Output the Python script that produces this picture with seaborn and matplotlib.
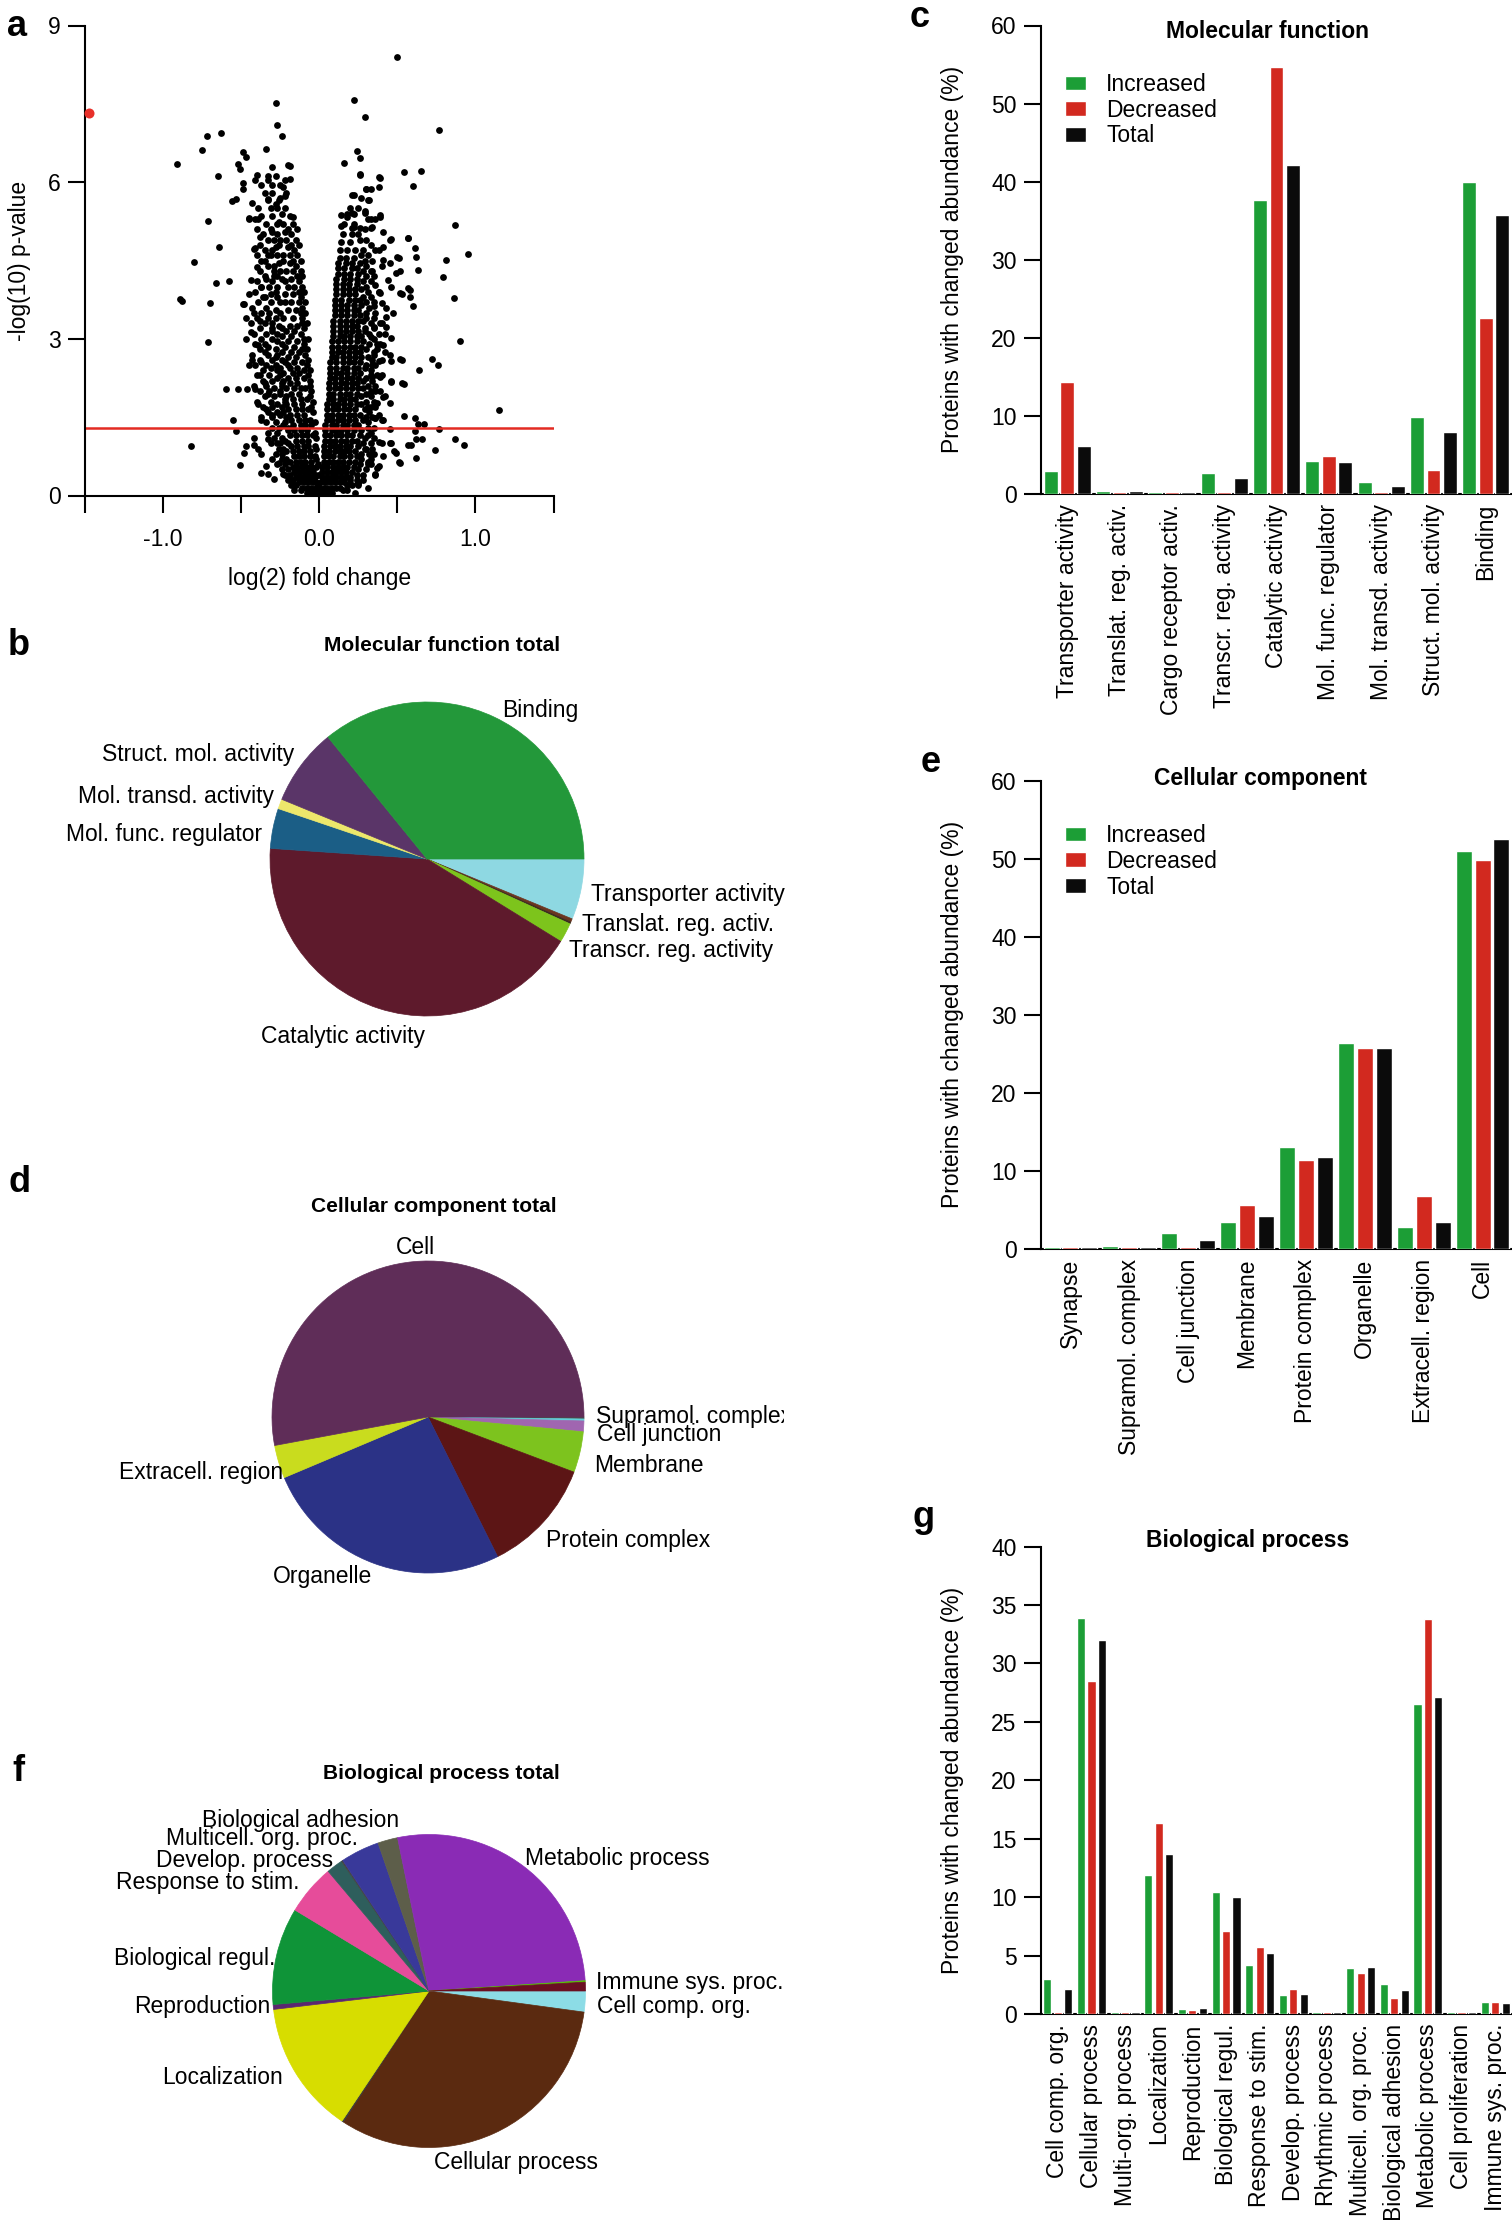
import numpy as np
import pandas as pd
import matplotlib
matplotlib.use('Agg')
import matplotlib.pyplot as plt
import seaborn as sns

# -------------------------------------------------------
# Data
# -------------------------------------------------------
# a: volcano plot, (log2 fold change, -log10 p-value)
vol_outliers = [
    (0.50, 8.40), (-0.28, 7.51), (0.22, 7.58), (0.29, 7.25), (-0.27, 7.09), (-0.24, 6.88),
    (0.77, 6.99), (-0.63, 6.94), (-0.72, 6.89), (-0.75, 6.61), (-0.91, 6.35), (-0.49, 6.57),
    (-0.47, 6.49), (-0.34, 6.64), (0.24, 6.59), (0.26, 6.47), (0.16, 6.36), (-0.52, 6.34),
    (-0.51, 6.26), (-0.30, 6.29), (-0.20, 6.33), (-0.19, 6.31), (-0.65, 6.11), (-0.40, 6.14),
    (-0.33, 6.12), (-0.28, 6.12), (-0.19, 6.06), (0.26, 6.15), (0.54, 6.19), (0.65, 6.22),
    (0.38, 6.09), (0.60, 5.92), (-0.49, 5.99), (-0.49, 5.87), (-0.23, 5.90), (0.30, 5.87),
    (0.33, 5.87), (0.38, 5.91), (0.21, 5.75), (-0.56, 5.64), (-0.53, 5.67), (-0.43, 5.60),
    (-0.33, 5.68), (-0.28, 5.58), (-0.22, 5.73), (0.32, 5.65), (0.29, 5.44), (0.14, 5.38),
    (0.18, 5.39), (0.22, 5.39), (0.39, 5.38), (-0.71, 5.25), (-0.45, 5.31), (-0.39, 5.29),
    (-0.26, 5.24), (-0.17, 5.33), (0.87, 5.18), (0.14, 5.16), (0.21, 5.12), (0.26, 5.12),
    (0.33, 5.13), (-0.64, 4.76), (0.57, 4.94), (0.46, 4.91), (0.61, 4.73), (0.62, 4.56),
    (0.95, 4.63), (0.81, 4.51), (0.63, 4.32), (0.50, 4.56), (-0.80, 4.47), (-0.58, 4.11),
    (-0.66, 4.06), (0.79, 4.18), (0.57, 3.97), (0.52, 3.87), (0.58, 3.80), (0.86, 3.78),
    (-0.89, 3.77), (-0.88, 3.73), (-0.70, 3.68), (-0.49, 3.66), (0.60, 3.62), (-0.71, 2.94),
    (0.90, 2.96), (0.72, 2.62), (0.76, 2.49), (0.64, 2.41), (0.52, 2.62), (0.46, 2.19),
    (0.53, 2.15), (-0.60, 2.04), (-0.52, 2.04), (-0.46, 2.03), (1.15, 1.64), (-0.55, 1.45),
    (-0.53, 1.24), (-0.82, 0.95), (0.61, 1.48), (0.63, 1.37), (0.67, 1.37), (0.61, 1.24),
    (0.77, 1.27), (0.87, 1.09), (0.93, 0.96), (0.74, 0.87), (0.62, 1.08), (0.66, 1.08),
    (0.57, 0.96), (0.62, 0.71), (0.51, 0.64), (0.48, 0.86), (0.46, 1.00), (0.45, 1.28),
    (0.38, 1.02), (0.41, 1.44), (0.36, 1.48), (-0.51, 0.58), (-0.48, 0.81), (-0.47, 0.95),
    (-0.42, 1.11), (-0.37, 1.45), (-0.37, 0.80), (-0.34, 0.57), (-0.37, 0.44), (-0.33, 0.41),
    (-0.29, 0.32), (-0.26, 0.63), (-0.23, 0.41), (-0.33, 1.08), (0.25, 0.24), (0.36, 0.42),
    (0.38, 0.57), (0.31, 0.64),
]
vol_left_spread = [
    (-0.45, 5.30), (-0.41, 5.29), (-0.38, 4.95), (-0.41, 4.74), (-0.42, 4.72), (-0.35, 4.50),
    (-0.40, 4.38), (-0.44, 4.13), (-0.37, 4.00), (-0.45, 3.85), (-0.36, 3.80), (-0.48, 3.67),
    (-0.42, 3.50), (-0.47, 3.40), (-0.38, 3.35), (-0.44, 3.14), (-0.47, 3.00), (-0.39, 2.88),
    (-0.43, 2.60), (-0.37, 2.55), (-0.45, 2.50), (-0.38, 2.30), (-0.35, 2.15), (-0.41, 2.04),
    (-0.33, 1.95), (-0.39, 1.75), (-0.34, 1.65), (-0.30, 1.55), (-0.42, 0.97), (-0.39, 0.90),
    (-0.27, 1.00), (-0.30, 0.70), (-0.33, 4.60), (-0.31, 5.50), (-0.35, 5.80), (-0.33, 6.05),
    (-0.30, 5.95), (-0.25, 5.70), (-0.29, 4.20), (-0.30, 3.20), (-0.35, 2.75),
]
vol_right_spread = [
    (0.33, 4.80), (0.35, 4.20), (0.40, 4.40), (0.38, 3.90), (0.43, 3.60), (0.35, 3.40),
    (0.42, 3.10), (0.37, 2.90), (0.45, 2.70), (0.34, 2.50), (0.40, 2.30), (0.36, 2.00),
    (0.42, 1.90), (0.33, 1.70), (0.38, 1.55), (0.45, 4.90), (0.41, 5.05), (0.31, 5.30),
    (0.33, 0.60), (0.30, 0.90), (0.35, 0.80), (0.28, 0.30), (0.31, 0.15), (0.23, 0.05),
    (0.41, 0.75),
    (0.41, 4.51), (0.45, 4.45), (0.51, 4.54), (0.49, 4.26), (0.52, 4.29), (0.57, 4.93),
    (0.44, 4.13), (0.46, 4.00), (0.53, 3.86), (0.58, 3.94), (0.39, 3.87), (0.36, 4.03),
    (0.40, 3.68), (0.43, 3.42), (0.47, 3.49), (0.39, 3.30), (0.35, 3.23), (0.43, 3.23),
    (0.46, 3.01), (0.41, 2.88), (0.35, 2.75), (0.42, 2.75), (0.46, 2.58), (0.53, 2.59),
    (0.38, 2.58), (0.39, 2.27), (0.46, 2.18), (0.54, 2.14), (0.41, 1.89), (0.45, 1.77),
    (0.36, 1.48), (0.40, 1.45), (0.54, 1.52), (0.37, 1.77), (0.34, 2.27), (0.33, 3.04),
    (0.35, 3.62), (0.34, 4.29), (0.38, 4.70), (0.41, 4.76), (0.39, 5.34), (0.34, 5.15),
    (0.31, 5.66), (0.39, 6.08), (0.26, 6.14), (0.30, 5.87), (0.22, 5.76), (0.29, 5.41),
    (0.21, 5.41), (0.22, 5.15), (0.18, 5.34), (0.45, 1.00), (0.40, 1.00), (0.49, 0.81),
    (0.52, 0.62), (0.37, 0.52), (0.36, 0.39), (0.25, 0.23), (0.31, 1.16), (0.59, 0.97),
]
# dense arms, read row by row: (-log10 p, [log2 fold changes])
vol_left_rows = [
    (0.05, [-0.08, -0.05, -0.03]), (0.15, [-0.11, -0.08, -0.05, -0.02]),
    (0.25, [-0.13, -0.10, -0.07, -0.04, -0.02]), (0.35, [-0.15, -0.12, -0.09, -0.06, -0.03]),
    (0.45, [-0.16, -0.13, -0.10, -0.07, -0.04]), (0.55, [-0.17, -0.14, -0.11, -0.08, -0.05, -0.02]),
    (0.65, [-0.19, -0.15, -0.12, -0.09, -0.05]), (0.75, [-0.16, -0.13, -0.10, -0.06, -0.03]),
    (0.85, [-0.21, -0.17, -0.13, -0.10, -0.06]), (0.95, [-0.18, -0.14, -0.10, -0.07, -0.03]),
    (1.05, [-0.22, -0.15, -0.11, -0.07]), (1.15, [-0.19, -0.15, -0.11, -0.08, -0.04]),
    (1.25, [-0.20, -0.16, -0.12, -0.08]), (1.35, [-0.23, -0.17, -0.12, -0.09, -0.05]),
    (1.45, [-0.18, -0.13, -0.09, -0.06]), (1.55, [-0.25, -0.19, -0.14, -0.10]),
    (1.65, [-0.20, -0.15, -0.11, -0.07]), (1.75, [-0.27, -0.21, -0.16, -0.11]),
    (1.85, [-0.22, -0.17, -0.12, -0.08]), (1.95, [-0.25, -0.18, -0.13]),
    (2.05, [-0.29, -0.21, -0.16, -0.12, -0.09]), (2.15, [-0.24, -0.19, -0.14]),
    (2.25, [-0.27, -0.20, -0.15, -0.10]), (2.35, [-0.23, -0.17, -0.13]),
    (2.45, [-0.31, -0.25, -0.19, -0.14]), (2.55, [-0.22, -0.16, -0.11]),
    (2.65, [-0.28, -0.20, -0.15]), (2.75, [-0.24, -0.18, -0.13]),
    (2.85, [-0.33, -0.22, -0.16]), (2.95, [-0.27, -0.20, -0.14]),
    (3.05, [-0.24, -0.18]), (3.15, [-0.30, -0.21, -0.16]), (3.25, [-0.26, -0.19, -0.14]),
    (3.40, [-0.33, -0.23, -0.17]), (3.55, [-0.28, -0.20, -0.15]), (3.70, [-0.25, -0.18]),
    (3.85, [-0.31, -0.22, -0.17]), (4.00, [-0.27, -0.20]), (4.15, [-0.34, -0.24, -0.18]),
    (4.30, [-0.29, -0.21]), (4.45, [-0.26, -0.19]), (4.60, [-0.31, -0.23]),
    (4.75, [-0.28, -0.20]), (4.90, [-0.25]), (5.05, [-0.30, -0.22]), (5.20, [-0.27]),
    (5.40, [-0.24]),
]
vol_left_rows_outer = [
    (0.10, [-0.16, -0.12, -0.01]), (0.20, [-0.18, -0.15, -0.01]), (0.30, [-0.20, -0.17]),
    (0.40, [-0.22, -0.19, -0.01]), (0.50, [-0.24, -0.20]), (0.60, [-0.27, -0.22, -0.01]),
    (0.70, [-0.24, -0.21, -0.02]), (0.80, [-0.28, -0.24]), (0.90, [-0.26, -0.23, -0.02]),
    (1.00, [-0.31, -0.25, -0.20]), (1.10, [-0.29, -0.24, -0.02]), (1.20, [-0.33, -0.27, -0.03]),
    (1.30, [-0.30, -0.26, -0.20]), (1.40, [-0.34, -0.28, -0.22, -0.03]),
    (1.50, [-0.37, -0.30, -0.21]), (1.60, [-0.33, -0.27, -0.23, -0.04]),
    (1.70, [-0.36, -0.30, -0.24, -0.05]), (1.80, [-0.40, -0.31, -0.22, -0.04]),
    (1.90, [-0.35, -0.29, -0.21, -0.06]), (2.00, [-0.38, -0.32, -0.25, -0.05]),
    (2.10, [-0.42, -0.34, -0.24, -0.06]), (2.20, [-0.36, -0.30, -0.23, -0.06]),
    (2.30, [-0.40, -0.32, -0.25, -0.07]), (2.40, [-0.36, -0.27, -0.10, -0.06]),
    (2.50, [-0.41, -0.34, -0.28, -0.20, -0.08]), (2.60, [-0.38, -0.30, -0.24, -0.07]),
    (2.70, [-0.43, -0.33, -0.27, -0.09]), (2.80, [-0.38, -0.28, -0.11, -0.08]),
    (2.90, [-0.41, -0.35, -0.24, -0.10]), (3.00, [-0.37, -0.30, -0.10, -0.07]),
    (3.10, [-0.42, -0.34, -0.27, -0.12]), (3.20, [-0.38, -0.24, -0.10]),
    (3.30, [-0.44, -0.35, -0.30, -0.11, -0.08]), (3.40, [-0.40, -0.28, -0.11]),
    (3.50, [-0.37, -0.32, -0.25, -0.12, -0.09]), (3.60, [-0.43, -0.34, -0.11]),
    (3.70, [-0.39, -0.31, -0.22, -0.13, -0.09]), (3.80, [-0.35, -0.27, -0.12]),
    (3.90, [-0.41, -0.28, -0.13, -0.10]), (4.00, [-0.37, -0.32, -0.16, -0.11]),
    (4.10, [-0.40, -0.30, -0.22, -0.13]), (4.20, [-0.35, -0.27, -0.14, -0.11]),
    (4.30, [-0.38, -0.25, -0.17, -0.12]), (4.40, [-0.33, -0.29, -0.15]),
    (4.50, [-0.37, -0.23, -0.17, -0.12]), (4.60, [-0.40, -0.27, -0.19, -0.14]),
    (4.70, [-0.35, -0.30, -0.16]), (4.80, [-0.38, -0.26, -0.18, -0.13]),
    (4.90, [-0.33, -0.29, -0.21, -0.15]), (5.00, [-0.36, -0.27, -0.18]),
    (5.10, [-0.40, -0.31, -0.20, -0.14]), (5.20, [-0.34, -0.23, -0.17]),
    (5.35, [-0.37, -0.30, -0.19]), (5.50, [-0.39, -0.27, -0.22]), (5.65, [-0.33, -0.26]),
    (5.80, [-0.30, -0.21]), (5.95, [-0.37, -0.25]), (6.05, [-0.41, -0.22]),
]
vol_right_rows = [
    (0.05, [-0.02, 0.01, 0.03, 0.06, 0.08]), (0.15, [0.00, 0.03, 0.05, 0.08, 0.11, 0.13]),
    (0.25, [0.01, 0.04, 0.07, 0.10, 0.13, 0.16]), (0.35, [0.02, 0.05, 0.08, 0.11, 0.14, 0.17, 0.20]),
    (0.45, [0.02, 0.05, 0.08, 0.11, 0.14, 0.17, 0.21]), (0.55, [0.02, 0.05, 0.09, 0.12, 0.15, 0.18, 0.22]),
    (0.65, [0.03, 0.06, 0.09, 0.12, 0.15, 0.19, 0.23]), (0.75, [0.03, 0.06, 0.09, 0.13, 0.16, 0.20, 0.24]),
    (0.85, [0.03, 0.06, 0.10, 0.13, 0.16, 0.19, 0.23]), (0.95, [0.03, 0.07, 0.10, 0.13, 0.17, 0.20, 0.25]),
    (1.05, [0.04, 0.07, 0.10, 0.14, 0.17, 0.21, 0.24]), (1.15, [0.04, 0.07, 0.11, 0.14, 0.18, 0.21, 0.26]),
    (1.25, [0.04, 0.08, 0.11, 0.14, 0.18, 0.22, 0.27]), (1.35, [0.04, 0.08, 0.11, 0.15, 0.18, 0.22, 0.25]),
    (1.45, [0.05, 0.08, 0.12, 0.15, 0.19, 0.23, 0.28]), (1.55, [0.05, 0.08, 0.12, 0.15, 0.19, 0.22, 0.26]),
    (1.65, [0.05, 0.09, 0.12, 0.16, 0.19, 0.23, 0.29]), (1.75, [0.05, 0.09, 0.12, 0.16, 0.20, 0.24, 0.27]),
    (1.85, [0.06, 0.09, 0.13, 0.16, 0.20, 0.23]), (1.95, [0.06, 0.09, 0.13, 0.17, 0.20, 0.24, 0.30]),
    (2.05, [0.06, 0.10, 0.13, 0.17, 0.21, 0.25, 0.28]), (2.15, [0.06, 0.10, 0.14, 0.17, 0.21, 0.24]),
    (2.25, [0.07, 0.10, 0.14, 0.18, 0.21, 0.25, 0.30]), (2.35, [0.07, 0.11, 0.14, 0.18, 0.22, 0.26]),
    (2.45, [0.07, 0.11, 0.15, 0.18, 0.22, 0.25, 0.29]), (2.55, [0.07, 0.11, 0.15, 0.19, 0.22, 0.26]),
    (2.65, [0.08, 0.11, 0.15, 0.19, 0.23, 0.27, 0.31]), (2.75, [0.08, 0.12, 0.15, 0.19, 0.23, 0.26]),
    (2.85, [0.08, 0.12, 0.16, 0.20, 0.23, 0.27]), (2.95, [0.08, 0.12, 0.16, 0.20, 0.24, 0.28]),
    (3.05, [0.09, 0.13, 0.16, 0.20, 0.24, 0.27]), (3.15, [0.09, 0.13, 0.17, 0.21, 0.25, 0.29]),
    (3.25, [0.09, 0.13, 0.17, 0.21, 0.24]), (3.35, [0.09, 0.13, 0.17, 0.21, 0.25, 0.28]),
    (3.45, [0.10, 0.14, 0.18, 0.22, 0.26]), (3.55, [0.10, 0.14, 0.18, 0.22, 0.25]),
    (3.65, [0.10, 0.14, 0.18, 0.22, 0.27]), (3.75, [0.10, 0.14, 0.19, 0.23, 0.26]),
    (3.85, [0.11, 0.15, 0.19, 0.23]), (3.95, [0.11, 0.15, 0.19, 0.23, 0.27]),
    (4.05, [0.11, 0.15, 0.19, 0.24]), (4.15, [0.11, 0.16, 0.20, 0.24]),
    (4.25, [0.12, 0.16, 0.20, 0.25]), (4.35, [0.12, 0.16, 0.21, 0.24]),
    (4.45, [0.12, 0.17, 0.21, 0.26]), (4.55, [0.13, 0.17, 0.22]), (4.70, [0.13, 0.18, 0.23]),
    (4.85, [0.14, 0.20]), (5.00, [0.15, 0.21, 0.25]), (5.20, [0.16, 0.22]),
]
vol_right_rows_outer = [
    (0.10, [0.15, 0.18]), (0.20, [0.18, 0.21, 0.25]), (0.30, [0.20, 0.24]), (0.40, [0.24, 0.28]),
    (0.50, [0.25, 0.30]), (0.60, [0.26, 0.31]), (0.70, [0.27, 0.33]), (0.80, [0.27, 0.32]),
    (0.90, [0.29, 0.34]), (1.00, [0.28, 0.33]), (1.10, [0.29, 0.35]), (1.20, [0.33]),
    (1.30, [0.31, 0.35]), (1.40, [0.31]), (1.50, [0.30, 0.34]), (1.60, [0.32]),
    (1.70, [0.31, 0.36]), (1.80, [0.30, 0.35]), (1.90, [0.27, 0.33]), (2.00, [0.33, 0.39]),
    (2.10, [0.31, 0.36]), (2.20, [0.28, 0.34]), (2.30, [0.33, 0.37]), (2.40, [0.33]),
    (2.50, [0.30, 0.36]), (2.60, [0.34, 0.40]), (2.70, [0.35]), (2.80, [0.30, 0.37]),
    (2.90, [0.32, 0.39]), (3.00, [0.35]), (3.10, [0.32, 0.38]), (3.20, [0.29, 0.35]),
    (3.30, [0.33, 0.40]), (3.40, [0.30]), (3.50, [0.30, 0.36]), (3.60, [0.32]),
    (3.70, [0.30, 0.35]), (3.80, [0.28, 0.33]), (3.90, [0.31, 0.38]), (4.00, [0.30]),
    (4.10, [0.28, 0.33]), (4.20, [0.30]), (4.30, [0.28, 0.33]), (4.40, [0.30]),
    (4.50, [0.29, 0.34]), (4.60, [0.27, 0.31]), (4.70, [0.28, 0.36]), (4.90, [0.26, 0.30]),
    (5.10, [0.29]), (5.30, [0.33, 0.36]), (5.50, [0.20, 0.25]), (5.70, [0.27]),
]
vol_flagged = [(-1.474, 7.32)]
p_cutoff = 1.3

# c / b: molecular function
mf_cats = ['Transporter activity', 'Translat. reg. activ.', 'Cargo receptor activ.',
           'Transcr. reg. activity', 'Catalytic activity', 'Mol. func. regulator',
           'Mol. transd. activity', 'Struct. mol. activity', 'Binding']
mf_inc = [3.0, 0.35, 0.2, 2.7, 37.6, 4.2, 1.6, 9.9, 40.0]
mf_dec = [14.4, 0.2, 0.2, 0.2, 54.7, 4.9, 0.2, 3.1, 22.6]
mf_tot = [6.2, 0.35, 0.2, 2.0, 42.1, 4.1, 1.0, 7.9, 35.7]

# e / d: cellular component
cc_cats = ['Synapse', 'Supramol. complex', 'Cell junction', 'Membrane', 'Protein complex',
           'Organelle', 'Extracell. region', 'Cell']
cc_inc = [0.2, 0.35, 2.0, 3.4, 13.0, 26.4, 2.8, 51.0]
cc_dec = [0.2, 0.2, 0.2, 5.6, 11.4, 25.75, 6.8, 49.9]
cc_tot = [0.2, 0.2, 1.1, 4.2, 11.8, 25.8, 3.4, 52.5]

# g / f: biological process
bp_cats = ['Cell comp. org.', 'Cellular process', 'Multi-org. process', 'Localization',
           'Reproduction', 'Biological regul.', 'Response to stim.', 'Develop. process',
           'Rhythmic process', 'Multicell. org. proc.', 'Biological adhesion',
           'Metabolic process', 'Cell proliferation', 'Immune sys. proc.']
bp_inc = [3.0, 33.9, 0.15, 11.9, 0.45, 10.4, 4.2, 1.65, 0.15, 3.9, 2.6, 26.5, 0.15, 1.0]
bp_dec = [0.15, 28.5, 0.15, 16.35, 0.35, 7.1, 5.7, 2.1, 0.15, 3.55, 1.4, 33.8, 0.15, 1.0]
bp_tot = [2.15, 32.0, 0.15, 13.7, 0.5, 10.0, 5.2, 1.7, 0.15, 4.0, 2.05, 27.1, 0.15, 0.9]

series = ['Increased', 'Decreased', 'Total']

# -------------------------------------------------------
# Styles / layout (pixels of the 1512x2220 canvas)
# -------------------------------------------------------
GREEN, RED, BLACK = '#1c9e36', '#d2291f', '#0b0b0b'

mf_colors = ['#8ed8e2', '#6b3520', '#3a2a20', '#7dc41c', '#5e1a2c', '#1b5e86', '#ede76b',
             '#5a3568', '#23983a']
cc_colors = ['#4a4a4a', '#5fd0d8', '#a066b0', '#7dc31e', '#5c1515', '#2b3286', '#c9dc1e',
             '#5f2d58']
bp_colors = ['#8cdce6', '#5b2a10', '#3a3a3a', '#d7dd00', '#5a2770', '#0f9438', '#e64c9a',
             '#2e5e5c', '#444444', '#39399a', '#5d5e4a', '#8a2bb5', '#55c000', '#6b0f22']

# label anchor (x, y, ha) in canvas pixels
mf_label_pos = {'Binding': (502, 710, 'left'), 'Struct. mol. activity': (294, 755, 'right'),
                'Mol. transd. activity': (274, 797, 'right'),
                'Mol. func. regulator': (262, 835, 'right'),
                'Transporter activity': (591, 895, 'left'),
                'Translat. reg. activ.': (582, 925, 'left'),
                'Transcr. reg. activity': (569, 950, 'left'),
                'Catalytic activity': (343, 1036, 'center')}
cc_label_pos = {'Cell': (415, 1247, 'center'), 'Supramol. complex': (596, 1416, 'left'),
                'Cell junction': (597, 1435, 'left'), 'Membrane': (594, 1466, 'left'),
                'Protein complex': (546, 1541, 'left'), 'Organelle': (322, 1576, 'center'),
                'Extracell. region': (283, 1473, 'right')}
bp_label_pos = {'Biological adhesion': (399, 1820, 'right'),
                'Multicell. org. proc.': (358, 1839, 'right'),
                'Develop. process': (333, 1860, 'right'),
                'Response to stim.': (300, 1883, 'right'),
                'Biological regul.': (275, 1959, 'right'), 'Reproduction': (270, 2007, 'right'),
                'Localization': (283, 2077, 'right'), 'Cellular process': (434, 2162, 'left'),
                'Metabolic process': (525, 1858, 'left'),
                'Immune sys. proc.': (596, 1982, 'left'), 'Cell comp. org.': (597, 2007, 'left')}

sns.set_theme(style='ticks')
plt.rcParams['font.family'] = ['Liberation Sans', 'DejaVu Sans']
plt.rcParams.update({'axes.edgecolor': 'black', 'xtick.color': 'black', 'ytick.color': 'black',
                     'text.color': 'black', 'axes.labelcolor': 'black'})

W, H = 1512, 2220
FS = 16.5
fig = plt.figure(figsize=(W / 100, H / 100), dpi=100)


def box(left, top, right, bottom):
    return [left / W, 1 - bottom / H, (right - left) / W, (bottom - top) / H]


def fx(px):
    return px / W


def fy(py):
    return 1 - py / H


def style_axes(ax):
    sns.despine(ax=ax)
    for s in ['left', 'bottom']:
        ax.spines[s].set_linewidth(1.5)
        ax.spines[s].set_color('black')


# -------------------------------------------------------
# a: volcano
# -------------------------------------------------------
pts = vol_outliers + vol_left_spread + vol_right_spread
for y, xs in vol_left_rows + vol_left_rows_outer + vol_right_rows + vol_right_rows_outer:
    pts += [(x, y) for x in xs]
vol_df = pd.DataFrame(pts, columns=['fc', 'p'])
flag_df = pd.DataFrame(vol_flagged, columns=['fc', 'p'])

ax = fig.add_axes(box(85, 25.5, 553.5, 495.5))
sns.scatterplot(data=vol_df, x='fc', y='p', color='black', s=24, linewidth=0, ax=ax)
sns.scatterplot(data=flag_df, x='fc', y='p', color='#e8302a', s=52, linewidth=0, ax=ax,
                clip_on=False, zorder=4)
ax.axhline(p_cutoff, color='#e32b22', lw=1.8)
ax.set_xlim(-1.5, 1.5)
ax.set_ylim(0, 9)
ax.set_xticks([-1.5, -1.0, -0.5, 0.0, 0.5, 1.0, 1.5])
ax.set_xticklabels(['', '-1.0', '', '0.0', '', '1.0', ''])
ax.set_yticks([0, 3, 6, 9])
ax.set_yticklabels(['0', '3', '6', '9'])
ax.tick_params(axis='both', length=12.5, width=1.5, labelsize=FS)
ax.tick_params(axis='x', pad=11)
ax.tick_params(axis='y', pad=5)
ax.set_xlabel('log(2) fold change', fontsize=FS)
ax.set_ylabel('-log(10) p-value', fontsize=FS)
ax.xaxis.set_label_coords(0.5, -0.153)
ax.yaxis.set_label_coords(-0.116, 0.5)
style_axes(ax)


# -------------------------------------------------------
# c / e / g: grouped bars
# -------------------------------------------------------
def bar_panel(rect, cats, inc, dec, tot, ymax, step, title, title_xy, width, gap, leg_xy=None):
    ax = fig.add_axes(box(*rect))
    n = len(cats)
    df = pd.DataFrame({'cat': cats * 3,
                       'series': [s for s in series for _ in range(n)],
                       'val': inc + dec + tot})
    sns.barplot(data=df, x='cat', y='val', hue='series', order=cats, hue_order=series,
                palette=[GREEN, RED, BLACK], saturation=1, width=width, gap=gap,
                errorbar=None, ax=ax)
    for p in ax.patches:
        p.set_zorder(3)
    ax.set_ylim(0, ymax)
    ax.set_yticks(range(0, ymax + 1, step))
    ax.set_xlim(-0.5, n - 0.5)
    ax.set_xlabel('')
    ax.set_ylabel('Proteins with changed abundance (%)', fontsize=FS)
    ax.yaxis.set_label_coords(-0.1635, 0.5)
    ax.set_xticks(range(n))
    ax.set_xticklabels(cats, rotation=90)
    ax.tick_params(axis='y', length=12.5, width=1.5, labelsize=FS, pad=5)
    ax.tick_params(axis='x', length=0, labelsize=FS, pad=7)
    style_axes(ax)
    handles, labels = ax.get_legend_handles_labels()
    ax.get_legend().remove()
    if leg_xy is not None:
        ax.legend(handles, labels, loc='upper left', bbox_to_anchor=(fx(leg_xy[0]), fy(leg_xy[1])),
                  bbox_transform=fig.transFigure, frameon=False, fontsize=FS,
                  handlelength=0.92, handleheight=0.6, handletextpad=0.9,
                  labelspacing=0.12, borderpad=0, borderaxespad=0)
    fig.text(fx(title_xy[0]), fy(title_xy[1]), title, ha='center', va='baseline',
             fontsize=FS, fontweight='bold')
    return ax


bar_panel((1041, 25.5, 1512, 494), mf_cats, mf_inc, mf_dec, mf_tot, 60, 10,
          'Molecular function', (1267, 38), 0.95, 0.16, leg_xy=(1064.6, 73))
bar_panel((1041, 781, 1512, 1248.7), cc_cats, cc_inc, cc_dec, cc_tot, 60, 10,
          'Cellular component', (1261, 785), 0.96, 0.15, leg_xy=(1064.6, 824))
bar_panel((1041, 1546.5, 1512, 2014), bp_cats, bp_inc, bp_dec, bp_tot, 40, 5,
          'Biological process', (1248, 1547), 0.93, 0.22)


# -------------------------------------------------------
# b / d / f: pies of the totals
# -------------------------------------------------------
def pie_panel(region, center, r, cats, vals, colors, label_pos, title, title_xy):
    left, top, right, bottom = region
    cx, cy = center
    ax = fig.add_axes(box(left, top, right, bottom))
    wedges, _ = ax.pie(vals, colors=colors, startangle=0, counterclock=False, radius=1)
    for w in wedges:
        w.set_edgecolor(w.get_facecolor())
        w.set_linewidth(0.5)
    ax.set_aspect('auto')
    ax.set_xlim((left - cx) / r, (right - cx) / r)
    ax.set_ylim((cy - bottom) / r, (cy - top) / r)
    ax.set_axis_off()
    for c in cats:
        if c in label_pos:
            px, py, ha = label_pos[c]
            ax.text((px - cx) / r, (cy - py) / r, c, ha=ha, va='center', fontsize=FS,
                    clip_on=True)
    fig.text(fx(title_xy[0]), fy(title_xy[1]), title, ha='center', va='baseline',
             fontsize=15, fontweight='bold')


pie_panel((0, 665, 786, 1100), (427, 859), 157, mf_cats, mf_tot, mf_colors, mf_label_pos,
          'Molecular function total', (442, 651))
pie_panel((0, 1225, 784, 1600), (428, 1417), 156, cc_cats, cc_tot, cc_colors, cc_label_pos,
          'Cellular component total', (434, 1212))
pie_panel((0, 1790, 788, 2215), (429, 1991), 156.5, bp_cats, bp_tot, bp_colors, bp_label_pos,
          'Biological process total', (441, 1779))

# panel letters
for letter, (px, py) in {'a': (7, 36), 'b': (8, 655), 'c': (910, 27), 'd': (8, 1192),
                         'e': (921, 772), 'f': (12, 1781), 'g': (913, 1527)}.items():
    fig.text(fx(px), fy(py), letter, ha='left', va='baseline', fontsize=26, fontweight='bold')

fig.savefig('out.png', dpi=100)
